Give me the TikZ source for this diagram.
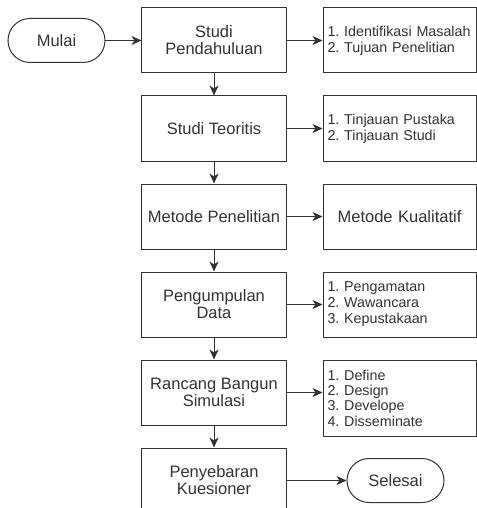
\documentclass[tikz,border=0pt]{standalone}
\usepackage{fontspec}
\setmainfont{Liberation Sans}
\usetikzlibrary{shapes,arrows,arrows.meta,positioning,calc}
\frenchspacing

\begin{document}
\begin{tikzpicture}[->,>={Stealth[length=10pt,width=9pt,inset=3pt]},auto,node distance=22pt,
  line width=1pt,color=black!80,
  main node/.style={rectangle,draw,minimum width=144pt,minimum height=65pt,
    align=center,font=\fontsize{16.5}{17}\selectfont},
  list node/.style={rectangle,draw,minimum width=153pt,minimum height=65pt,
    text width=144pt,inner xsep=4.5pt,align=left,font=\fontsize{14.3}{16}\selectfont},
  end node/.style={rectangle,draw,rounded corners=22pt,minimum width=97pt,
    minimum height=44pt,font=\fontsize{16.5}{17}\selectfont}]

  \useasboundingbox (-214pt,40.5pt) rectangle (262pt,-467.5pt);

  \node[main node] (1) {Studi\\Pendahuluan};
  \node[main node] (2) [below=of 1] {Studi Teoritis};
  \node[main node] (3) [below=of 2] {Metode Penelitian};
  \node[main node] (4) [below=of 3] {Pengumpulan\\Data};
  \node[main node] (5) [below=of 4] {Rancang Bangun\\Simulasi};
  \node[main node] (6) [below=of 5] {Penyebaran\\Kuesioner};

  \node[end node] (mulai) [left=36pt of 1] {Mulai};
  \node[end node] (selesai) [right=60pt of 6] {Selesai};

  \node[list node] (l1) [right=36pt of 1] {1. Identifikasi Masalah\\2. Tujuan Penelitian};
  \node[list node] (l2) [right=36pt of 2] {1. Tinjauan Pustaka\\2. Tinjauan Studi};
  \node[list node,align=center,font=\fontsize{16.5}{17}\selectfont] (l3) [right=36pt of 3] {Metode Kualitatif};
  \node[list node] (l4) [right=36pt of 4] {1. Pengamatan\\2. Wawancara\\3. Kepustakaan};
  \node[list node,minimum height=76pt,font=\fontsize{14.3}{15.3}\selectfont] (l5)
    [right=36pt of 5.north east,anchor=north west] {1. Define\\2. Design\\3. Develope\\4. Disseminate};

  \path
    (mulai) edge (1)
    (1) edge (2)
    (2) edge (3)
    (3) edge (4)
    (4) edge (5)
    (5) edge (6)
    (1) edge (l1)
    (2) edge (l2)
    (3) edge (l3)
    (4) edge (l4)
    (5) edge (5.east -| l5.west)
    (6) edge (selesai);
\end{tikzpicture}
\end{document}
